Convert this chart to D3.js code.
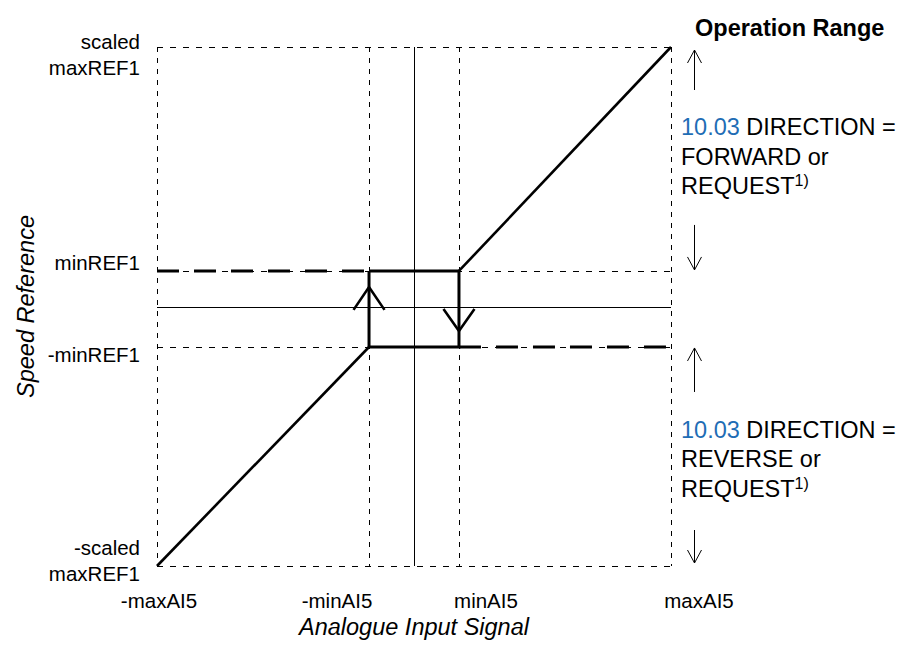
<!DOCTYPE html>
<html>
<head>
<meta charset="utf-8">
<script src="https://cdn.jsdelivr.net/npm/d3@7"></script>
<style>
  html, body { margin: 0; padding: 0; background: #fff; }
  svg { display: block; font-family: "Liberation Sans", Arial, sans-serif; }
</style>
</head>
<body>
<svg id="chart" width="901" height="646"></svg>
<script>
// ---- data ----
const xTickValues = [-1, -0.175, 0.175, 1];
const xTickLabels = ["-maxAI5", "-minAI5", "minAI5", "maxAI5"];
const yTickValues = [1, 0.137, -0.156, -1];
const yTickLabels = [["scaled", "maxREF1"], ["minREF1"], ["-minREF1"], ["-scaled", "maxREF1"]];

const lowerBranch = [[-1, -1], [-0.175, -0.156]];
const upperBranch = [[0.175, 0.137], [1, 1]];
const hysteresisBox = [[-0.175, 0.137], [0.175, 0.137], [0.175, -0.156], [-0.175, -0.156], [-0.175, 0.137]];
const forwardLimit = [[-1, 0.137], [-0.175, 0.137]];
const reverseLimit = [[0.175, -0.156], [1, -0.156]];
// arrows inside the box: [x, tailY, tipY]
const boxArrows = [[-0.175, -0.013, 0.075], [0.175, -0.01, -0.094]];

const title = "Operation Range";
const forwardText = ["10.03", " DIRECTION =", "FORWARD or", "REQUEST", "1)"];
const reverseText = ["10.03", " DIRECTION =", "REVERSE or", "REQUEST", "1)"];
const xTitle = "Analogue Input Signal";
const yTitle = "Speed Reference";

// ---- layout ----
const svg = d3.select("#chart");
const x = d3.scaleLinear().domain([-1, 1]).range([157, 671]);
const y = d3.scaleLinear().domain([-1, 1]).range([566, 47]);
const line = d3.line().x(d => x(d[0])).y(d => y(d[1]));
const fontTick = 20.5, fontBig = 23.5;
const px = v => Math.round(x(v)) + 0.5;
const py = v => Math.round(y(v)) + 0.5;

// thin dashed grid
const g = svg.append("g");
yTickValues.forEach(v => {
  g.append("line").attr("x1", x(-1)).attr("x2", x(1)).attr("y1", py(v)).attr("y2", py(v))
    .attr("stroke", "#000").attr("stroke-width", 1).attr("stroke-dasharray", "6,7");
});
xTickValues.forEach(v => {
  g.append("line").attr("x1", px(v)).attr("x2", px(v)).attr("y1", y(1)).attr("y2", y(-1))
    .attr("stroke", "#000").attr("stroke-width", 1).attr("stroke-dasharray", "5,6");
});
// solid centre axes
g.append("line").attr("x1", px(0)).attr("x2", px(0)).attr("y1", y(1)).attr("y2", y(-1))
  .attr("stroke", "#000").attr("stroke-width", 1);
g.append("line").attr("x1", x(-1)).attr("x2", x(1)).attr("y1", py(0)).attr("y2", py(0))
  .attr("stroke", "#000").attr("stroke-width", 1);

// thick dashed limits
[forwardLimit, reverseLimit].forEach(d => {
  svg.append("path").attr("d", line(d)).attr("fill", "none").attr("stroke", "#000")
    .attr("stroke-width", 3).attr("stroke-dasharray", "22,15");
});

// characteristic
[lowerBranch, upperBranch].forEach(d => {
  svg.append("path").attr("d", line(d)).attr("fill", "none").attr("stroke", "#000")
    .attr("stroke-width", 2.6);
});
svg.append("path").attr("d", line(hysteresisBox)).attr("fill", "none").attr("stroke", "#000")
  .attr("stroke-width", 3).attr("stroke-linejoin", "miter");

boxArrows.forEach(([xv, t0, t1]) => {
  const cx = x(xv), tip = y(t1), tail = y(t0);
  svg.append("path")
    .attr("d", `M${cx - 15.5},${tail} L${cx},${tip} L${cx + 15.5},${tail}`)
    .attr("fill", "none").attr("stroke", "#000").attr("stroke-width", 2.6);
});

// right-side range arrows
function openArrow(cx, fromY, toY) {
  const dir = Math.sign(toY - fromY);
  svg.append("line").attr("x1", cx).attr("x2", cx).attr("y1", fromY).attr("y2", toY)
    .attr("stroke", "#000").attr("stroke-width", 1);
  svg.append("path").attr("d", `M${cx - 7},${toY - dir * 13} L${cx},${toY} L${cx + 7},${toY - dir * 13}`)
    .attr("fill", "none").attr("stroke", "#000").attr("stroke-width", 1);
}
const ax = Math.round(x(1) + 23) + 0.5;
openArrow(ax, y(1) + 43, y(1) + 3);
openArrow(ax, y(0.137) - 46, y(0.137) - 1);
openArrow(ax, y(-0.156) + 45, y(-0.156) + 1);
openArrow(ax, y(-1) - 36, y(-1) - 3);

// title
svg.append("text").attr("x", 695).attr("y", 36).attr("font-size", fontBig).attr("font-weight", "bold")
  .attr("fill", "#000").text(title);

function block(lines, baselines) {
  const t1 = svg.append("text").attr("x", 681).attr("y", baselines[0]).attr("font-size", fontBig).attr("fill", "#000");
  t1.append("tspan").attr("fill", "#1f6db5").text(lines[0]);
  t1.append("tspan").text(lines[1]);
  svg.append("text").attr("x", 681).attr("y", baselines[1]).attr("font-size", fontBig).attr("fill", "#000").text(lines[2]);
  const t3 = svg.append("text").attr("x", 681).attr("y", baselines[2]).attr("font-size", fontBig).attr("fill", "#000");
  t3.append("tspan").text(lines[3]);
  t3.append("tspan").attr("font-size", 16).attr("dy", -8).text(lines[4]);
}
block(forwardText, [135, 165, 194]);
block(reverseText, [438, 467, 497]);

// y tick labels
const yFirstDy = [2, -1, 15, -11];
yTickLabels.forEach((lbls, i) => {
  const t = svg.append("text").attr("x", 140).attr("y", y(yTickValues[i]) + yFirstDy[i])
    .attr("font-size", fontTick).attr("text-anchor", "end").attr("fill", "#000");
  lbls.forEach((s, j) => {
    t.append("tspan").attr("x", 140).attr("dy", j === 0 ? 0 : 25.5).text(s);
  });
});

// x tick labels
const xDx = [2, -32, 27, 28];
xTickLabels.forEach((s, i) => {
  svg.append("text").attr("x", x(xTickValues[i]) + xDx[i]).attr("y", 608)
    .attr("font-size", fontTick).attr("text-anchor", "middle").attr("fill", "#000").text(s);
});

// axis titles
svg.append("text").attr("x", x(0)).attr("y", 635).attr("font-size", fontBig)
  .attr("font-style", "italic").attr("text-anchor", "middle").attr("fill", "#000").text(xTitle);
svg.append("text").attr("transform", `translate(34,${y(0)}) rotate(-90)`).attr("font-size", fontBig)
  .attr("font-style", "italic").attr("text-anchor", "middle").attr("fill", "#000").text(yTitle);
</script>
</body>
</html>
